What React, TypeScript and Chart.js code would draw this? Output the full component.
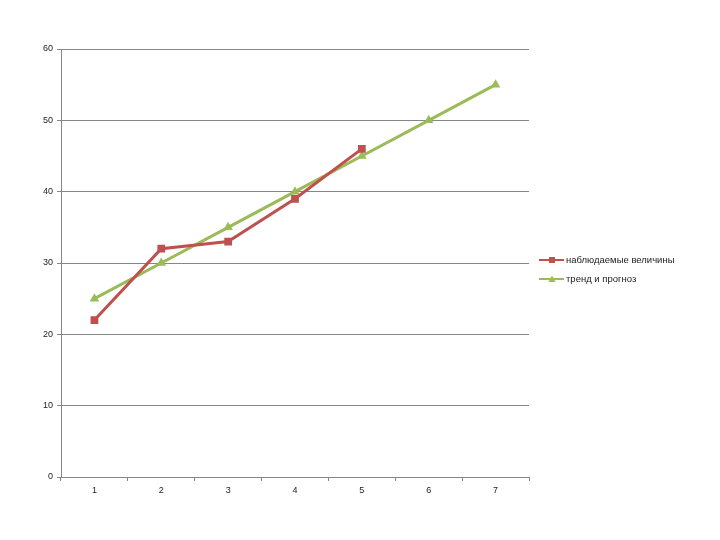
import React, { useEffect, useRef } from "react";
import { Chart, registerables } from "chart.js";

Chart.register(...registerables);

const categories = ["1", "2", "3", "4", "5", "6", "7"];
const observed: (number | null)[] = [22, 32, 33, 39, 46, null, null];
const trend = [25, 30, 35, 40, 45, 50, 55];
const seriesNames = ["наблюдаемые величины", "тренд и прогноз"];

const RED = "#C0504D";
const GREEN = "#9BBB59";
const GRID = "#868686";
const FONT = "'Liberation Sans', Arial, sans-serif";

const legendPlugin = {
  id: "sideLegend",
  afterDraw(chart: any) {
    const ctx = chart.ctx;
    const area = chart.chartArea;
    const x0 = area.right + 10;
    const ys = [260, 279];
    ctx.save();
    chart.data.datasets.forEach((ds: any, i: number) => {
      const y = ys[i];
      ctx.strokeStyle = ds.borderColor;
      ctx.lineWidth = 2;
      ctx.beginPath();
      ctx.moveTo(x0, y);
      ctx.lineTo(x0 + 25, y);
      ctx.stroke();
      ctx.fillStyle = ds.backgroundColor;
      const mx = x0 + 13;
      if (ds.pointStyle === "rect") {
        ctx.fillRect(mx - 3, y - 3, 6, 6);
      } else {
        ctx.beginPath();
        ctx.moveTo(mx, y - 3.5);
        ctx.lineTo(mx + 3.5, y + 3);
        ctx.lineTo(mx - 3.5, y + 3);
        ctx.closePath();
        ctx.fill();
      }
      ctx.fillStyle = "#222";
      ctx.font = `9.5px ${FONT}`;
      ctx.textBaseline = "middle";
      ctx.textAlign = "left";
      ctx.fillText(ds.label, x0 + 27, y);
    });
    ctx.restore();
  },
};

export default function App() {
  const ref = useRef<HTMLCanvasElement>(null);
  useEffect(() => {
    if (!ref.current) return;
    const chart = new Chart(ref.current, {
      type: "line",
      data: {
        labels: categories,
        datasets: [
          {
            label: seriesNames[0],
            data: observed,
            borderColor: RED,
            backgroundColor: RED,
            borderWidth: 3,
            pointStyle: "rect",
            pointRadius: 5.5,
            pointBorderWidth: 0,
            spanGaps: false,
          },
          {
            label: seriesNames[1],
            data: trend,
            borderColor: GREEN,
            backgroundColor: GREEN,
            borderWidth: 3,
            pointStyle: "triangle",
            pointRadius: 5.5,
            pointBorderWidth: 0,
          },
        ],
      },
      options: {
        animation: false,
        responsive: false,
        layout: { padding: { top: 49, right: 191, bottom: 0, left: 0 } },
        plugins: {
          legend: { display: false },
          tooltip: { enabled: false },
        },
        scales: {
          x: {
            type: "category",
            offset: true,
            grid: {
              offset: true,
              drawOnChartArea: false,
              drawTicks: true,
              tickLength: 4,
              color: GRID,
            },
            border: { color: GRID, width: 1 },
            ticks: {
              color: "#222",
              font: { family: FONT, size: 9 },
              padding: 4,
              maxRotation: 0,
            },
            afterFit(scale: any) {
              scale.height = 63;
            },
          },
          y: {
            min: 0,
            max: 60,
            ticks: {
              stepSize: 10,
              color: "#222",
              font: { family: FONT, size: 9 },
              padding: 4,
            },
            grid: { color: GRID, tickLength: 4, lineWidth: 1 },
            border: { color: GRID, width: 1 },
            afterFit(scale: any) {
              scale.width = 61;
            },
          },
        },
      },
      plugins: [legendPlugin],
    });
    return () => chart.destroy();
  }, []);
  return (
    <div style={{ position: "fixed", left: 0, top: 0, width: 720, height: 540, background: "#fff" }}>
      <canvas ref={ref} width={720} height={540} />
    </div>
  );
}
